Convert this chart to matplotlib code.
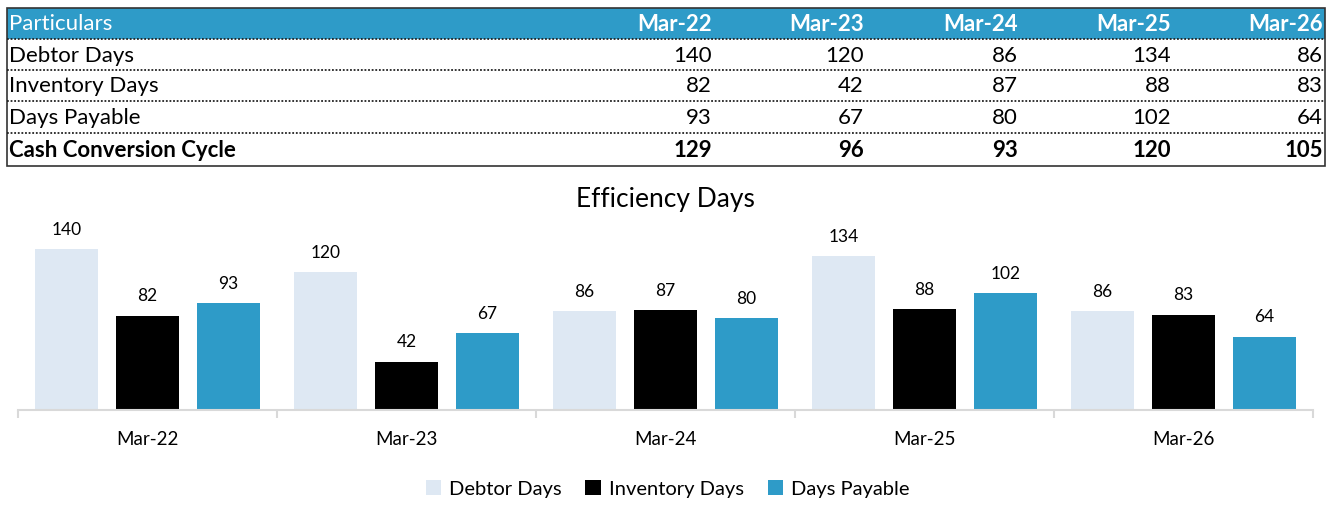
import numpy as np
import matplotlib.pyplot as plt
from matplotlib.patches import Rectangle

periods = ['Mar-22', 'Mar-23', 'Mar-24', 'Mar-25', 'Mar-26']
debtor_days = [140, 120, 86, 134, 86]
inventory_days = [82, 42, 87, 88, 83]
days_payable = [93, 67, 80, 102, 64]
cash_cycle = [129, 96, 93, 120, 105]

row_labels = ['Debtor Days', 'Inventory Days', 'Days Payable', 'Cash Conversion Cycle']
rows = [debtor_days, inventory_days, days_payable, cash_cycle]

BLUE = '#2E9BC8'
LIGHT = '#DEE8F3'
plt.rcParams['font.family'] = ['Lato', 'DejaVu Sans']

W, H = 1327, 505
fig = plt.figure(figsize=(W / 100, H / 100), dpi=100)

# ---- table drawn in pixel coordinates ----
tab = fig.add_axes([0, 0, 1, 1])
tab.set_xlim(0, W)
tab.set_ylim(H, 0)
tab.axis('off')

x0, x1 = 7, 1325
row_y = [8, 39, 70, 101, 133, 166]
col_right = [712, 864, 1018, 1171, 1323]

tab.add_patch(Rectangle((x0, row_y[0]), x1 - x0, row_y[1] - row_y[0], color=BLUE, lw=0))
tab.add_patch(Rectangle((x0, row_y[0]), x1 - x0, row_y[-1] - row_y[0], fill=False, ec='#333333', lw=1.2))
for yy in row_y[1:-1]:
    tab.plot([x0, x1], [yy, yy], color='#222222', lw=1.3, ls=(0, (1, 1)))

fs = 16
ymid = lambda i: (row_y[i] + row_y[i + 1]) / 2 + 1
tab.text(9, ymid(0), 'Particulars', color='white', fontsize=fs, va='center', ha='left')
for cx, p in zip(col_right, periods):
    tab.text(cx, ymid(0), p, color='white', fontsize=fs, va='center', ha='right', fontweight='bold')

for i, (lab, vals) in enumerate(zip(row_labels, rows)):
    bold = 'bold' if i == len(rows) - 1 else 'normal'
    tab.text(9, ymid(i + 1), lab, fontsize=fs, va='center', ha='left', fontweight=bold)
    for cx, v in zip(col_right, vals):
        tab.text(cx, ymid(i + 1), f'{v}', fontsize=fs, va='center', ha='right', fontweight=bold)

# ---- bar chart ----
ax = fig.add_axes([18 / W, 95 / H, (1313 - 18) / W, 195 / H])
x = np.arange(len(periods))
width = 0.245
off = 0.313
series = [('Debtor Days', debtor_days, LIGHT),
          ('Inventory Days', inventory_days, 'black'),
          ('Days Payable', days_payable, BLUE)]
for k, (name, vals, col) in enumerate(series):
    bars = ax.bar(x + (k - 1) * off, vals, width, color=col, label=name)
    for b, v in zip(bars, vals):
        ax.text(b.get_x() + b.get_width() / 2, v + 10, f'{v}', ha='center', va='bottom', fontsize=12.5)

ax.set_xlim(-0.5, len(periods) - 0.5)
ax.set_ylim(0, 170)
ax.set_yticks([])
for s in ['top', 'right', 'left']:
    ax.spines[s].set_visible(False)
ax.spines['bottom'].set_color('#D9D9D9')
ax.spines['bottom'].set_linewidth(1.5)
ax.set_xticks(np.arange(-0.5, len(periods)), minor=True)
ax.tick_params(axis='x', which='minor', length=6, color='#D9D9D9', width=1.5)
ax.set_xticks(x)
ax.set_xticklabels(periods, fontsize=13.5)
ax.tick_params(axis='x', which='major', length=0, pad=15)
ax.set_title('Efficiency Days', fontsize=19, pad=6, y=1.0)

fig.legend(loc='center', bbox_to_anchor=(0.503, 1 - 489 / H), ncol=3, frameon=False,
           fontsize=14.5, handlelength=0.75, handleheight=0.75, handletextpad=0.4, columnspacing=1.2)

fig.savefig('out.png', dpi=100)
